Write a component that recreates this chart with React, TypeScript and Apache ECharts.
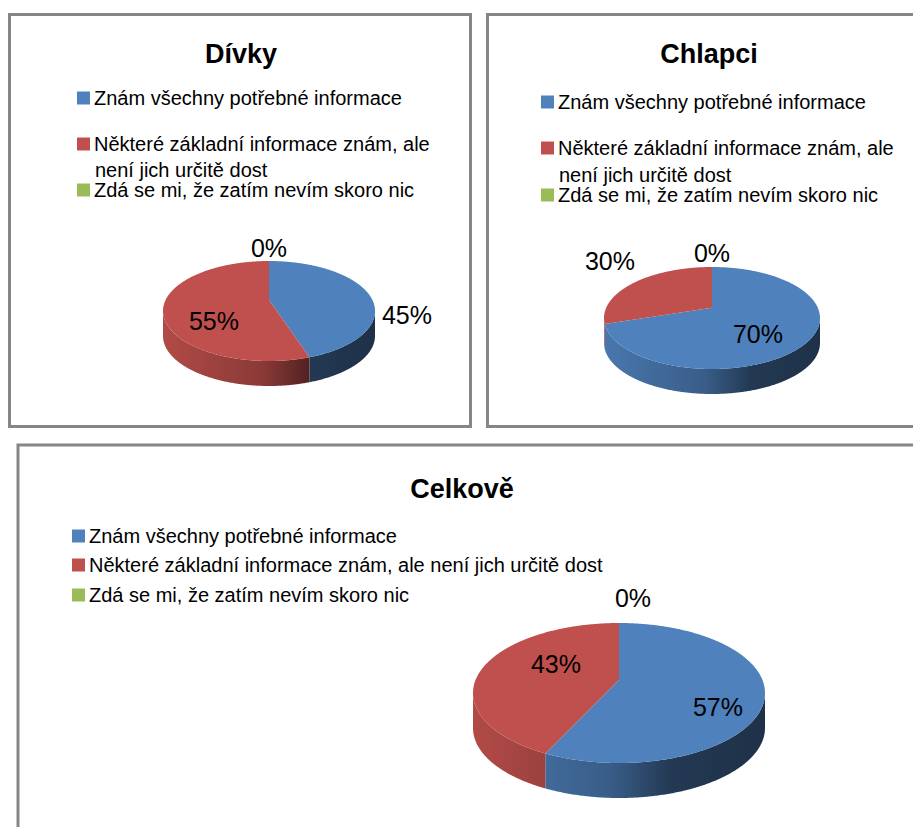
import React, { useEffect, useRef } from "react";
import * as echarts from "echarts";

const seriesNames = [
  "Znám všechny potřebné informace",
  "Některé základní informace znám, ale není jich určitě dost",
  "Zdá se mi, že zatím nevím skoro nic",
];
const seriesColors = ["#4F81BD", "#C0504D", "#9BBB59"];
const panelTitles = ["Dívky", "Chlapci", "Celkově"];
const divkyValues = [45, 55, 0];
const chlapciValues = [70, 30, 0];
const celkoveValues = [57, 43, 0];
const panelValues = [divkyValues, chlapciValues, celkoveValues];

const FONT = "'Liberation Sans', Arial, sans-serif";
const LEGEND_SIZE = 20;
const LABEL_SIZE = 25;
const FRAME = "#868686";
const WRAP_MARK = " není";

const layouts = [
  {
    frame: [9.5, 14.5, 461, 412],
    titleX: 236, titleY: 35,
    pie: { cx: 269, cy: 311, rx: 106, ry: 50, k: -0.22, depth: 25, clip: 9999 },
    labels: [[407, 315], [214, 321], [269, 248]],
    legendX: 77,
    legendY: [98, 144, 190],
    second: [95, 170] as null | number[],
  },
  {
    frame: [487.5, 14.5, 500, 412],
    titleX: 704, titleY: 35,
    pie: { cx: 712, cy: 318, rx: 108, ry: 51, k: -0.2, depth: 25, clip: 9999 },
    labels: [[758, 334], [610, 261], [712, 253]],
    legendX: 541,
    legendY: [102, 148, 195],
    second: [559, 175] as null | number[],
  },
  {
    frame: [18, 445, 960, 460],
    titleX: 457, titleY: 470,
    pie: { cx: 619, cy: 693, rx: 146, ry: 70, k: -0.19, depth: 35, clip: 798 },
    labels: [[718, 707], [556, 664], [633, 598]],
    legendX: 72,
    legendY: [536, 565, 595],
    second: null as null | number[],
  },
];

function shade(hex: string, f: number) {
  const n = parseInt(hex.slice(1), 16);
  const c = [(n >> 16) & 255, (n >> 8) & 255, n & 255].map((v) => Math.round(v * f));
  return `rgb(${c.join(",")})`;
}

function project(p: typeof layouts[0]["pie"], frac: number) {
  const a = frac * 2 * Math.PI;
  const u = Math.sin(a);
  const v = -Math.cos(a);
  const d = 1 + p.k * v;
  return [p.cx + (p.rx * u * Math.sqrt(1 - p.k * p.k)) / d, p.cy + (p.ry * (v + p.k)) / d];
}

function buildOption() {
  const series: any[] = [];
  const legend: any[] = [];
  const graphic: any[] = [];
  const title: any[] = [];

  layouts.forEach((lay, pi) => {
    const [fx, fy, fw, fh] = lay.frame;
    graphic.push({
      type: "rect",
      silent: true,
      z: -1,
      shape: { x: fx, y: fy, width: fw, height: fh },
      style: { fill: "#fff", stroke: FRAME, lineWidth: 3 },
    });
    title.push({
      text: panelTitles[pi],
      left: lay.titleX,
      top: lay.titleY,
      textAlign: "center",
      textStyle: { fontFamily: FONT, fontSize: 27, fontWeight: "bold", color: "#000" },
    });

    const values = panelValues[pi];
    const total = values.reduce((a, b) => a + b, 0);
    let acc = 0;
    values.forEach((val, si) => {
      const start = acc / total;
      acc += val;
      const end = acc / total;
      const p = lay.pie;
      const base = seriesColors[si];
      series.push({
        type: "custom",
        name: seriesNames[si],
        coordinateSystem: "none",
        itemStyle: { color: base },
        silent: true,
        data: [[val]],
        renderItem: () => {
          const children: any[] = [];
          if (end > start) {
            const steps = Math.max(2, Math.ceil((end - start) * 720));
            const arc: number[][] = [];
            for (let i = 0; i <= steps; i++) arc.push(project(p, start + ((end - start) * i) / steps));
            const front = arc.filter((q) => q[1] >= p.cy);
            if (front.length > 1) {
              const lower = front.map((q) => [q[0], Math.min(q[1] + p.depth, p.clip)]).reverse();
              children.push({
                type: "polygon",
                shape: { points: front.concat(lower) },
                style: {
                  fill: {
                    type: "linear",
                    global: true,
                    x: p.cx - p.rx, y: 0, x2: p.cx + p.rx, y2: 0,
                    colorStops: [
                      { offset: 0, color: shade(base, 0.92) },
                      { offset: 0.47, color: shade(base, 0.72) },
                      { offset: 0.68, color: shade(base, 0.44) },
                      { offset: 1, color: shade(base, 0.38) },
                    ],
                  },
                },
              });
            }
            const vertex = [p.cx, p.cy + p.ry * p.k];
            children.push({
              type: "polygon",
              shape: { points: [vertex, ...arc] },
              style: { fill: base },
            });
          }
          const [lx, ly] = lay.labels[si];
          children.push({
            type: "text",
            z2: 20,
            style: {
              x: lx, y: ly,
              text: `${val}%`,
              fill: "#000",
              font: `${LABEL_SIZE}px ${FONT}`,
              align: "center",
              verticalAlign: "middle",
            },
          });
          return { type: "group", children };
        },
      });

      const cut = seriesNames[si].indexOf(WRAP_MARK);
      const wrap = !!lay.second && cut >= 0;
      legend.push({
        data: [seriesNames[si]],
        left: lay.legendX,
        top: lay.legendY[si] - 12,
        padding: 0,
        itemWidth: 13,
        itemHeight: 13,
        itemGap: 0,
        icon: "rect",
        selectedMode: false,
        textStyle: { fontFamily: FONT, fontSize: LEGEND_SIZE, color: "#000", padding: [0, 0, 0, -1], height: 24, lineHeight: 24 },
        formatter: (name: string) => (wrap ? name.slice(0, cut) : name),
      });
      if (wrap && lay.second) {
        graphic.push({
          type: "text",
          silent: true,
          style: {
            x: lay.second[0], y: lay.second[1],
            text: seriesNames[si].slice(cut + 1),
            fill: "#000",
            font: `${LEGEND_SIZE}px ${FONT}`,
            verticalAlign: "middle",
          },
        });
      }
    });
  });

  return { animation: false, backgroundColor: "#fff", title, legend, graphic, series };
}

export default function App() {
  const ref = useRef<HTMLDivElement>(null);
  useEffect(() => {
    document.body.style.margin = "0";
    const chart = echarts.init(ref.current!, undefined, { renderer: "svg" });
    chart.setOption(buildOption());
    return () => chart.dispose();
  }, []);
  return <div ref={ref} style={{ width: 913, height: 827, overflow: "hidden" }} />;
}
